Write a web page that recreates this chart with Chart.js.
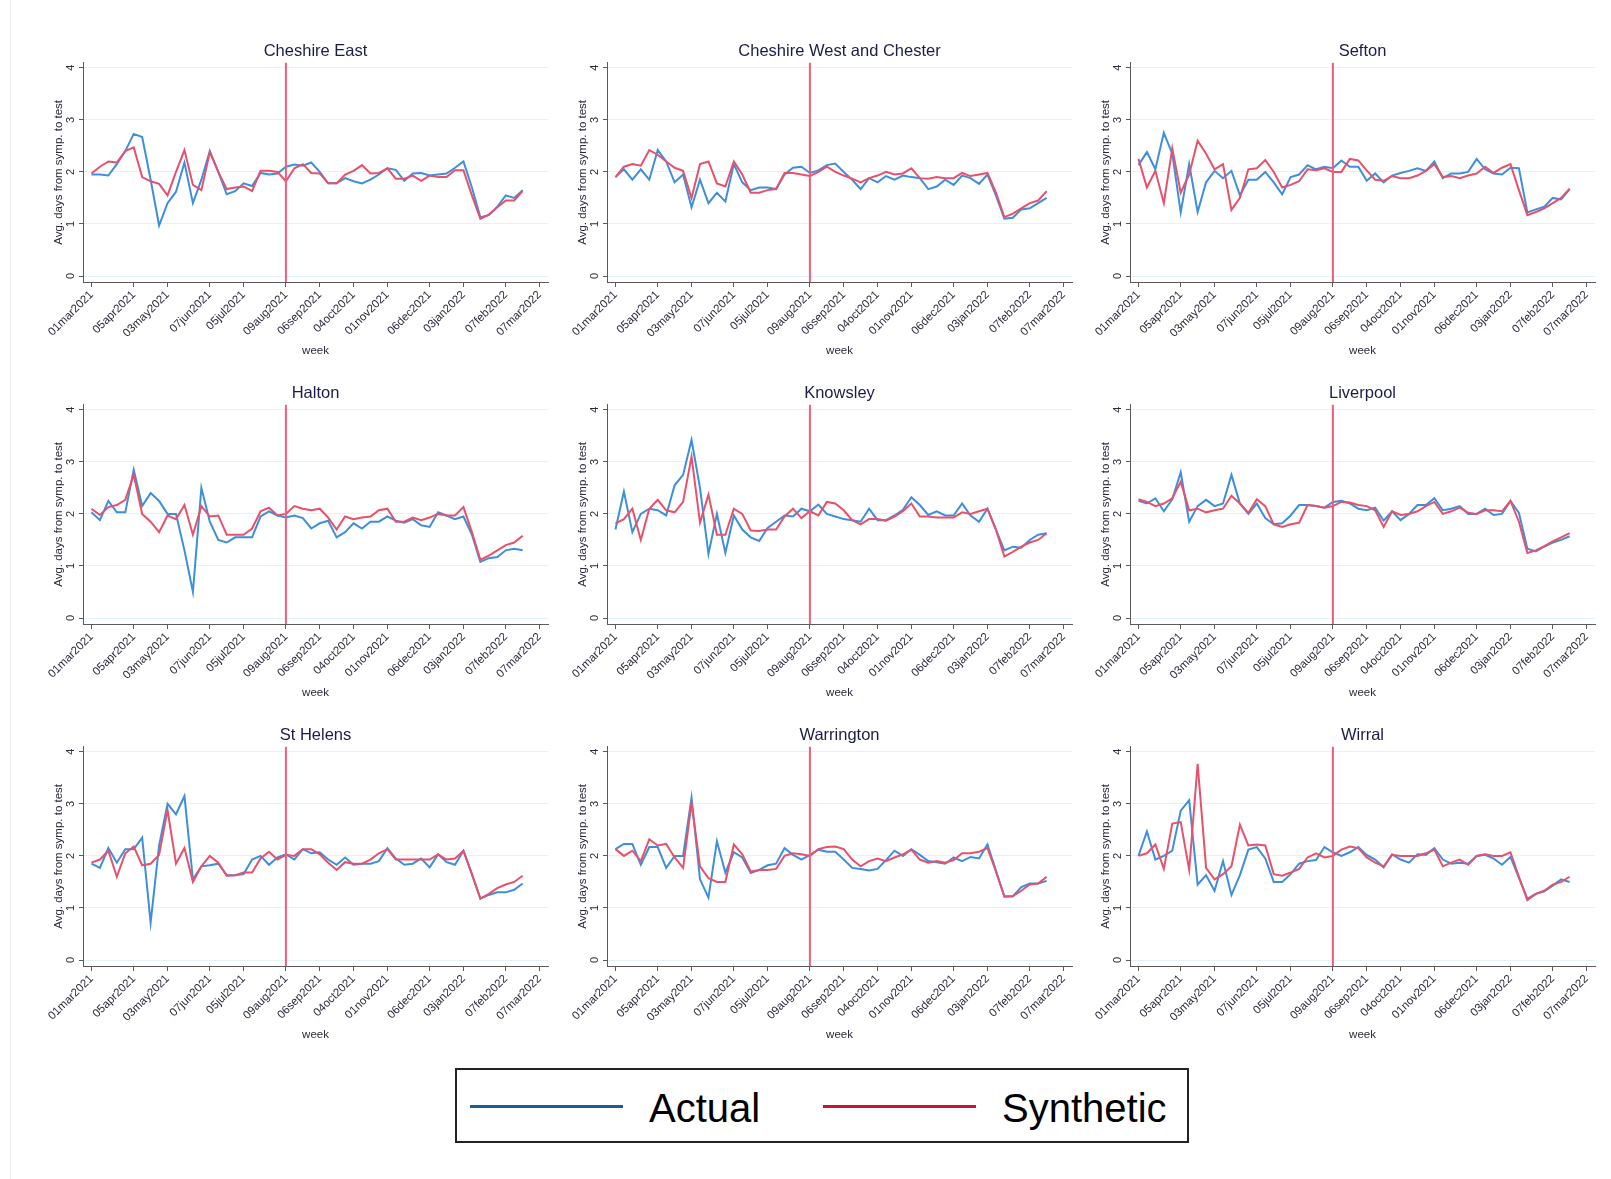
<!DOCTYPE html>
<html>
<head>
<meta charset="utf-8">
<title>Avg. days from symptoms to test: actual vs synthetic</title>
<script src="https://cdn.jsdelivr.net/npm/chart.js@4.4.1/dist/chart.umd.min.js"></script>
<style>
  html, body { margin: 0; padding: 0; background: #fff; }
  body { width: 1611px; height: 1179px; position: relative; overflow: hidden;
         font-family: "Liberation Sans", Arial, sans-serif; }
  .panel { position: absolute; width: 560px; height: 360px; }
  #edge { position: absolute; left: 10px; top: 0; width: 1px; height: 1179px; background: #ececec; }
  #legend { position: absolute; left: 455px; top: 1068px; width: 730px; height: 71px;
            border: 2px solid #222; background: #fff; }
  #legend .key { position: absolute; top: 35px; width: 153px; height: 3px; }
  #legend .lab { position: absolute; top: 18px; font-size: 40px; line-height: 40px; color: #000; white-space: nowrap; }
</style>
</head>
<body>
<div id="edge"></div>
<div id="legend">
  <div class="key" style="left:13px;background:#1d5c9c"></div>
  <div class="lab" style="left:192px">Actual</div>
  <div class="key" style="left:366px;background:#c8142e"></div>
  <div class="lab" style="left:545px">Synthetic</div>
</div>
<script>
// Weeks are counted from the week starting 01mar2021 (week 0) to 21feb2022 (week 51).
const tickWeeks  = [0, 5, 9, 14, 18, 23, 27, 31, 35, 40, 44, 49, 53];
const tickLabels = ['01mar2021','05apr2021','03may2021','07jun2021','05jul2021','09aug2021',
                    '06sep2021','04oct2021','01nov2021','06dec2021','03jan2022','07feb2022','07mar2022'];
const yTicks = [0, 1, 2, 3, 4];
const interventionWeek = 23;   // 09aug2021

const areaNames = ['Cheshire East', 'Cheshire West and Chester', 'Sefton',
                   'Halton', 'Knowsley', 'Liverpool',
                   'St Helens', 'Warrington', 'Wirral'];

const cheshireEastActual = [1.95,1.95,1.93,2.15,2.4,2.73,2.67,1.85,0.97,1.4, 1.62,2.18,1.4,1.85,2.4,2.0,1.57,1.63,1.78,1.73, 1.98,1.95,1.97,2.1,2.14,2.12,2.18,2.0,1.78,1.78, 1.88,1.82,1.78,1.85,1.95,2.07,2.04,1.83,1.97,1.98, 1.93,1.95,1.97,2.08,2.2,1.7,1.13,1.17,1.33,1.55, 1.5,1.65];
const cheshireEastSynthetic = [1.97,2.1,2.2,2.18,2.4,2.47,1.9,1.82,1.77,1.55, 2.0,2.42,1.75,1.65,2.38,2.0,1.67,1.7,1.72,1.63, 2.02,2.02,2.0,1.82,2.07,2.15,1.98,1.97,1.78,1.78, 1.95,2.02,2.13,1.97,1.98,2.07,1.87,1.87,1.93,1.83, 1.93,1.9,1.9,2.03,2.03,1.55,1.1,1.18,1.32,1.45, 1.45,1.63];

const cheshireWestActual = [1.9,2.05,1.85,2.05,1.85,2.42,2.2,1.8,1.95,1.32, 1.85,1.4,1.6,1.43,2.15,1.8,1.65,1.7,1.7,1.67, 1.95,2.08,2.1,1.98,2.03,2.13,2.16,2.0,1.85,1.67, 1.88,1.8,1.92,1.85,1.93,1.9,1.88,1.67,1.72,1.85, 1.75,1.93,1.88,1.77,1.95,1.55,1.1,1.12,1.28,1.3, 1.4,1.5];
const cheshireWestSynthetic = [1.9,2.1,2.15,2.12,2.42,2.33,2.2,2.08,2.02,1.5, 2.15,2.2,1.78,1.72,2.2,1.95,1.6,1.6,1.65,1.67, 1.98,1.98,1.95,1.92,2.0,2.1,2.0,1.93,1.87,1.8, 1.88,1.93,2.0,1.95,1.97,2.07,1.88,1.87,1.9,1.88, 1.88,1.98,1.92,1.95,1.98,1.6,1.13,1.2,1.3,1.4, 1.45,1.63];

const seftonActual = [2.13,2.38,2.05,2.75,2.35,1.22,2.15,1.23,1.8,2.02, 1.88,2.02,1.55,1.85,1.85,2.0,1.8,1.57,1.9,1.95, 2.13,2.05,2.1,2.07,2.22,2.1,2.1,1.83,1.97,1.8, 1.93,1.98,2.02,2.07,2.02,2.2,1.88,1.97,1.97,2.0, 2.25,2.05,1.97,1.95,2.08,2.07,1.22,1.28,1.33,1.5, 1.47,1.67];
const seftonSynthetic = [2.25,1.7,2.02,1.4,2.45,1.6,1.95,2.6,2.35,2.05, 2.15,1.27,1.5,2.05,2.07,2.23,2.0,1.7,1.75,1.82, 2.05,2.03,2.07,2.0,2.0,2.25,2.22,2.03,1.85,1.83, 1.92,1.88,1.88,1.93,2.02,2.15,1.9,1.92,1.88,1.93, 1.97,2.1,1.98,2.08,2.15,1.65,1.17,1.23,1.3,1.4, 1.5,1.68];

const haltonActual = [2.03,1.88,2.25,2.03,2.03,2.85,2.15,2.4,2.25,2.0, 2.0,1.3,0.5,2.5,1.85,1.5,1.45,1.55,1.55,1.55, 1.95,2.05,1.97,1.93,1.97,1.92,1.72,1.82,1.87,1.55, 1.65,1.82,1.72,1.85,1.85,1.95,1.87,1.83,1.9,1.78, 1.75,2.03,1.97,1.9,1.95,1.6,1.08,1.15,1.17,1.3, 1.33,1.3];
const haltonSynthetic = [2.1,1.98,2.13,2.17,2.27,2.75,2.0,1.85,1.65,1.97, 1.9,2.17,1.6,2.15,1.95,1.97,1.6,1.6,1.6,1.72, 2.05,2.12,1.97,2.0,2.15,2.1,2.07,2.1,1.93,1.7, 1.95,1.9,1.93,1.95,2.07,2.1,1.85,1.85,1.93,1.88, 1.93,2.0,1.97,1.97,2.13,1.65,1.12,1.2,1.3,1.4, 1.45,1.58];

const knowsleyActual = [1.7,2.43,1.65,2.0,2.1,2.07,1.97,2.55,2.75,3.42, 2.5,1.23,2.0,1.25,1.97,1.7,1.55,1.48,1.73,1.85, 1.97,1.95,2.1,2.05,2.18,2.0,1.95,1.9,1.88,1.85, 2.1,1.88,1.88,1.97,2.08,2.32,2.17,1.98,2.05,1.97, 1.97,2.2,1.97,1.85,2.1,1.7,1.3,1.37,1.35,1.5, 1.6,1.63];
const knowsleySynthetic = [1.82,1.9,2.1,1.5,2.1,2.27,2.07,2.03,2.23,3.1, 1.83,2.37,1.6,1.6,2.1,2.0,1.68,1.67,1.7,1.7, 1.95,2.1,1.92,2.05,1.97,2.23,2.2,2.07,1.88,1.8, 1.9,1.9,1.87,1.95,2.05,2.2,1.95,1.95,1.93,1.93, 1.93,2.03,2.0,2.05,2.1,1.7,1.18,1.27,1.37,1.45, 1.5,1.63];

const liverpoolActual = [2.25,2.2,2.3,2.05,2.28,2.8,1.85,2.15,2.27,2.15, 2.2,2.75,2.2,2.0,2.2,1.92,1.8,1.82,1.97,2.17, 2.17,2.15,2.12,2.23,2.25,2.2,2.1,2.07,2.12,1.87, 2.05,1.88,2.0,2.17,2.17,2.3,2.07,2.1,2.15,2.0, 2.0,2.1,1.98,2.0,2.25,2.02,1.33,1.28,1.37,1.45, 1.5,1.57];
const liverpoolSynthetic = [2.28,2.23,2.15,2.2,2.3,2.62,2.07,2.1,2.03,2.07, 2.1,2.35,2.2,2.02,2.28,2.15,1.8,1.75,1.8,1.83, 2.17,2.15,2.12,2.15,2.23,2.22,2.17,2.15,2.07,1.75, 2.05,1.98,2.0,2.05,2.15,2.23,2.0,2.05,2.12,2.02, 2.0,2.07,2.07,2.05,2.25,1.85,1.25,1.3,1.38,1.47, 1.55,1.63];

const stHelensActual = [1.85,1.77,2.15,1.87,2.13,2.13,2.35,0.72,2.2,3.0, 2.8,3.15,1.55,1.8,1.82,1.85,1.63,1.63,1.65,1.93, 2.0,1.83,1.97,2.03,1.93,2.13,2.05,2.07,1.93,1.83, 1.97,1.83,1.85,1.85,1.9,2.15,1.95,1.83,1.85,1.95, 1.78,2.03,1.88,1.83,2.1,1.65,1.18,1.25,1.3,1.3, 1.35,1.47];
const stHelensSynthetic = [1.87,1.93,2.1,1.6,2.05,2.18,1.82,1.85,2.02,2.88, 1.85,2.15,1.5,1.8,2.0,1.87,1.62,1.63,1.68,1.68, 1.95,2.08,1.93,2.02,2.0,2.13,2.13,2.03,1.87,1.73, 1.88,1.85,1.85,1.93,2.05,2.13,1.93,1.93,1.93,1.93, 1.93,2.03,1.93,1.95,2.1,1.65,1.18,1.27,1.38,1.45, 1.5,1.62];

const warringtonActual = [2.13,2.23,2.23,1.83,2.17,2.17,1.77,2.0,2.0,3.12, 1.55,1.2,2.28,1.68,2.07,1.97,1.67,1.73,1.82,1.85, 2.15,2.02,1.93,2.02,2.12,2.08,2.08,1.93,1.77,1.75, 1.72,1.75,1.92,2.1,2.0,2.13,2.02,1.9,1.88,1.85, 1.97,1.9,1.98,1.95,2.22,1.72,1.22,1.22,1.4,1.47, 1.47,1.52];
const warringtonSynthetic = [2.13,2.0,2.1,1.9,2.32,2.2,2.23,1.97,1.77,3.02, 1.8,1.57,1.5,1.5,2.22,2.03,1.7,1.73,1.73,1.75, 2.0,2.05,2.03,2.0,2.13,2.17,2.18,2.13,1.93,1.8, 1.9,1.95,1.9,1.97,2.03,2.12,1.93,1.87,1.9,1.87, 1.92,2.05,2.05,2.08,2.15,1.7,1.22,1.23,1.33,1.45, 1.47,1.6];

const wirralActual = [2.0,2.47,1.93,2.0,2.1,2.87,3.07,1.45,1.63,1.33, 1.9,1.25,1.63,2.12,2.17,1.95,1.5,1.5,1.65,1.85, 1.9,1.92,2.17,2.07,2.0,2.07,2.17,2.02,1.93,1.78, 2.03,1.93,1.87,2.03,2.02,2.15,1.93,1.85,1.87,1.85, 2.0,2.02,1.95,1.83,1.98,1.58,1.18,1.27,1.32,1.43, 1.55,1.5];
const wirralSynthetic = [2.0,2.05,2.22,1.75,2.62,2.65,1.73,3.77,1.77,1.55, 1.65,1.8,2.6,2.2,2.22,2.2,1.65,1.62,1.68,1.75, 1.97,2.05,1.97,2.0,2.12,2.18,2.15,1.97,1.87,1.8, 2.02,2.0,2.0,2.0,2.05,2.12,1.8,1.87,1.93,1.83, 2.0,2.03,2.0,2.0,2.07,1.6,1.15,1.27,1.33,1.45, 1.5,1.6];

const actualSeries = [cheshireEastActual, cheshireWestActual, seftonActual,
                      haltonActual, knowsleyActual, liverpoolActual,
                      stHelensActual, warringtonActual, wirralActual];
const syntheticSeries = [cheshireEastSynthetic, cheshireWestSynthetic, seftonSynthetic,
                         haltonSynthetic, knowsleySynthetic, liverpoolSynthetic,
                         stHelensSynthetic, warringtonSynthetic, wirralSynthetic];

// ---- styling / layout ----
const BLUE = '#3d8fdc', RED = '#e8506b', VLINE = '#f25c7a';
const AXIS = '#5a5a5a', GRID = '#e3f3fa', TEXT = '#2a2a3c', TITLE = '#1c1c48';
const FONT = '"Liberation Sans", Arial, sans-serif';
const colLeft = [0, 524, 1047];     // canvas left per column
const rowTop  = [0, 342, 684];      // canvas top per row
const TARGET = { left: 83, right: 548, top: 63, bottom: 282 };

Chart.defaults.font.family = FONT;

const treatmentLine = {
  id: 'treatmentLine',
  afterDatasetsDraw(chart) {
    const x = chart.scales.x.getPixelForValue(interventionWeek);
    const { top, bottom } = chart.chartArea;
    const ctx = chart.ctx;
    ctx.save();
    ctx.strokeStyle = VLINE;
    ctx.lineWidth = 2;
    ctx.beginPath();
    ctx.moveTo(x, top);
    ctx.lineTo(x, bottom);
    ctx.stroke();
    ctx.restore();
  }
};

function toPoints(values) {
  return values.map((v, i) => ({ x: i, y: v }));
}

areaNames.forEach((name, idx) => {
  const col = idx % 3, row = Math.floor(idx / 3);
  const canvas = document.createElement('canvas');
  canvas.className = 'panel';
  canvas.width = 560; canvas.height = 360;
  canvas.style.left = colLeft[col] + 'px';
  canvas.style.top = rowTop[row] + 'px';
  document.body.appendChild(canvas);

  const box = { xHeight: 78, yWidth: 35 };

  const chart = new Chart(canvas, {
    type: 'line',
    data: {
      datasets: [
        { label: 'Synthetic', data: toPoints(syntheticSeries[idx]), borderColor: RED,
          borderWidth: 2, pointRadius: 0, tension: 0, fill: false },
        { label: 'Actual', data: toPoints(actualSeries[idx]), borderColor: BLUE,
          borderWidth: 2, pointRadius: 0, tension: 0, fill: false }
      ]
    },
    options: {
      responsive: false,
      animation: false,
      devicePixelRatio: 1,
      layout: { padding: { top: 42, left: 48, right: 12, bottom: 0 } },
      plugins: {
        legend: { display: false },
        tooltip: { enabled: false },
        title: { display: true, text: name, color: TITLE, fullSize: false,
                 font: { size: 16.5, weight: 'normal' }, padding: { top: 0, bottom: 1 } }
      },
      scales: {
        x: {
          type: 'linear', min: -1, max: 54,
          afterBuildTicks: s => { s.ticks = tickWeeks.map(v => ({ value: v })); },
          afterFit: s => { s.height = box.xHeight; },
          grid: { drawOnChartArea: false, drawTicks: true, tickLength: 5, tickColor: AXIS, tickWidth: 1 },
          border: { color: AXIS, width: 1 },
          ticks: { autoSkip: false, minRotation: 45, maxRotation: 45, padding: 1,
                   color: TEXT, font: { size: 11.5 },
                   callback: v => tickLabels[tickWeeks.indexOf(v)] },
          title: { display: true, text: 'week', color: TEXT, font: { size: 11.5 },
                   padding: { top: 0, bottom: 2.5 } }
        },
        y: {
          min: -0.115, max: 4.096,
          afterBuildTicks: s => { s.ticks = yTicks.map(v => ({ value: v })); },
          afterFit: s => { s.width = box.yWidth; },
          grid: { color: GRID, lineWidth: 1, drawTicks: true, tickLength: 4, tickColor: AXIS },
          border: { color: AXIS, width: 1 },
          ticks: { minRotation: 90, maxRotation: 90, crossAlign: 'center', padding: 5,
                   color: TEXT, font: { size: 11 } },
          title: { display: true, text: 'Avg. days from symp. to test', color: TEXT,
                   font: { size: 11.5 }, padding: { top: 4, bottom: 0 } }
        }
      }
    },
    plugins: [treatmentLine]
  });

  // nudge the plot area onto the shared grid of panels
  for (let k = 0; k < 4; k++) {
    const a = chart.chartArea;
    const dl = TARGET.left - a.left, dr = TARGET.right - a.right;
    const dt = TARGET.top - a.top, db = TARGET.bottom - a.bottom;
    if (Math.abs(dl) < 0.3 && Math.abs(dr) < 0.3 && Math.abs(dt) < 0.3 && Math.abs(db) < 0.3) break;
    chart.options.layout.padding.left += dl;
    chart.options.layout.padding.right -= dr;
    chart.options.plugins.title.padding.bottom += dt;
    box.xHeight -= db;
    chart.update('none');
  }
});
</script>
</body>
</html>
